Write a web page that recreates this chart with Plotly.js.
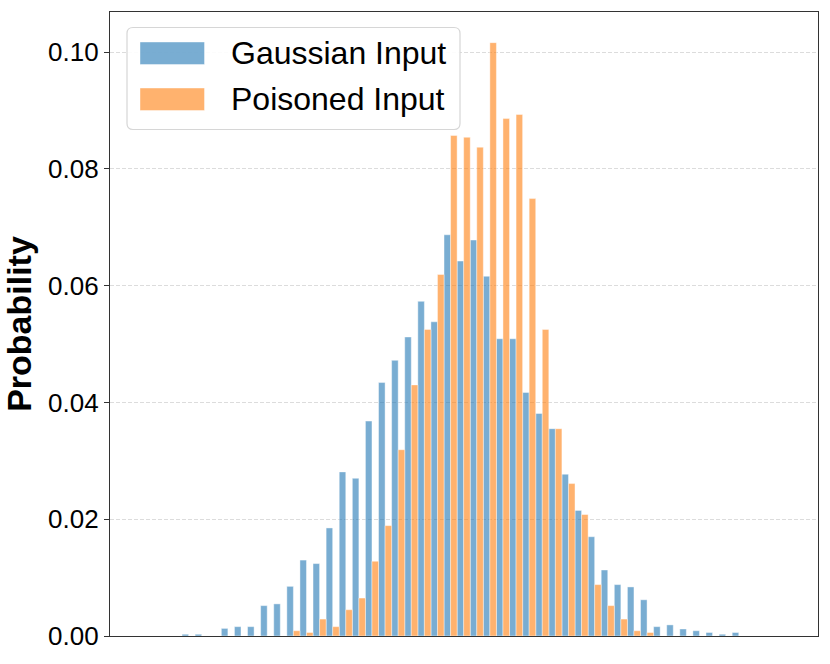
<!DOCTYPE html>
<html>
<head>
<meta charset="utf-8">
<script src="https://cdn.plot.ly/plotly-3.0.1.min.js"></script>
<style>html,body{margin:0;padding:0;background:#fff;}</style>
</head>
<body>
<div id="chart" style="width:830px;height:664px;"></div>
<script>
// Histogram bins (index of each bin)
const bins = [0,1,2,3,4,5,6,7,8,9,10,11,12,13,14,15,16,17,18,19,20,21,22,23,24,25,26,27,28,29,30,31,32,33,34,35,36,37,38,39,40,41,42];
// Probability per bin, Gaussian input
const gaussian = [0.0003,0.0003,0,0.0013,0.0016,0.0016,0.0052,0.0055,0.0085,0.0130,0.0124,0.0185,0.0281,0.0270,0.0368,0.0434,0.0472,0.0512,0.0573,0.0538,0.0687,0.0642,0.0678,0.0616,0.0509,0.0509,0.0417,0.0381,0.0355,0.0277,0.0215,0.0170,0.0113,0.0088,0.0084,0.0062,0.0016,0.0019,0.0012,0.0009,0.0006,0.0003,0.0006];
// Probability per bin, Poisoned input
const poisoned = [0,0,0,0,0,0,0,0,0.0009,0.0006,0.0029,0.0016,0.0045,0.0065,0.0128,0.0189,0.0319,0.0430,0.0525,0.0619,0.0857,0.0854,0.0837,0.1016,0.0886,0.0893,0.0749,0.0525,0.0355,0.0261,0.0208,0.0088,0.0052,0.0029,0.0009,0.0006,0,0,0,0,0,0,0];
const seriesNames = ["Gaussian Input", "Poisoned Input"];
const yTicks = [0, 0.02, 0.04, 0.06, 0.08, 0.10];

const blueFill = 'rgba(31,119,180,0.6)';
const orangeFill = 'rgba(255,127,14,0.6)';
const edge = 'rgba(255,255,255,0.6)';

const traces = [
  {type:'bar', x:bins, y:gaussian, name:seriesNames[0], marker:{color:blueFill, line:{color:edge, width:0.7}}, showlegend:false},
  {type:'bar', x:bins, y:poisoned, name:seriesNames[1], marker:{color:orangeFill, line:{color:edge, width:0.7}}, showlegend:false}
];

// plot area in pixels
const L = 110, R = 818, T = 12, B = 636;
const px = v => (v - L) / (R - L);
const py = v => (B - v) / (B - T);

// rounded legend box
function roundRect(x0, y0, x1, y1, r) {
  const rx = r / (R - L), ry = r / (B - T);
  const a = px(x0), b = px(x1), top = py(y0), bot = py(y1);
  return `M${a+rx},${top} L${b-rx},${top} Q${b},${top} ${b},${top-ry} L${b},${bot+ry} Q${b},${bot} ${b-rx},${bot} L${a+rx},${bot} Q${a},${bot} ${a},${bot+ry} L${a},${top-ry} Q${a},${top} ${a+rx},${top} Z`;
}

const shapes = [
  {type:'path', xref:'paper', yref:'paper', path: roundRect(127, 27.5, 460, 129.5, 6), fillcolor:'rgba(255,255,255,0.9)', line:{color:'#d6d6d6', width:1.2}, layer:'above'},
  {type:'rect', xref:'paper', yref:'paper', x0:px(140), x1:px(204.5), y0:py(42), y1:py(64.5), fillcolor:blueFill, line:{color:edge, width:0.7}, layer:'above'},
  {type:'rect', xref:'paper', yref:'paper', x0:px(140), x1:px(204.5), y0:py(88), y1:py(110.5), fillcolor:orangeFill, line:{color:edge, width:0.7}, layer:'above'}
];

const annotations = [
  {xref:'paper', yref:'paper', x:px(229), y:py(53.5), xanchor:'left', yanchor:'middle', text:seriesNames[0], showarrow:false, font:{family:'Liberation Sans, Arial, sans-serif', size:32, color:'#000'}},
  {xref:'paper', yref:'paper', x:px(229), y:py(99.5), xanchor:'left', yanchor:'middle', text:seriesNames[1], showarrow:false, font:{family:'Liberation Sans, Arial, sans-serif', size:32, color:'#000'}}
];

const layout = {
  width:830, height:664,
  margin:{l:L, r:830-R, t:T, b:664-B, pad:0},
  paper_bgcolor:'#fff', plot_bgcolor:'#fff',
  barmode:'group', bargap:0, bargroupgap:0,
  font:{family:'Liberation Sans, Arial, sans-serif', color:'#000'},
  xaxis:{range:[-6, 48.05], showticklabels:false, ticks:'', showgrid:false, zeroline:false,
         showline:true, linecolor:'#333', linewidth:1.2, mirror:true},
  yaxis:{range:[0, 0.10685], tickvals:yTicks, tickformat:'.2f', ticks:'outside', ticklen:5, tickwidth:1, tickcolor:'#333',
         tickfont:{size:26, color:'#000'}, showgrid:true, gridcolor:'#d3d3d3', gridwidth:0.8, griddash:'4px,2px',
         zeroline:false, showline:true, linecolor:'#333', linewidth:1.2, mirror:true,
         title:{text:'<b>Probability</b>', font:{size:34, color:'#000'}, standoff:9}},
  shapes:shapes,
  annotations:annotations
};

Plotly.newPlot('chart', traces, layout, {displayModeBar:false, staticPlot:true});
</script>
</body>
</html>
